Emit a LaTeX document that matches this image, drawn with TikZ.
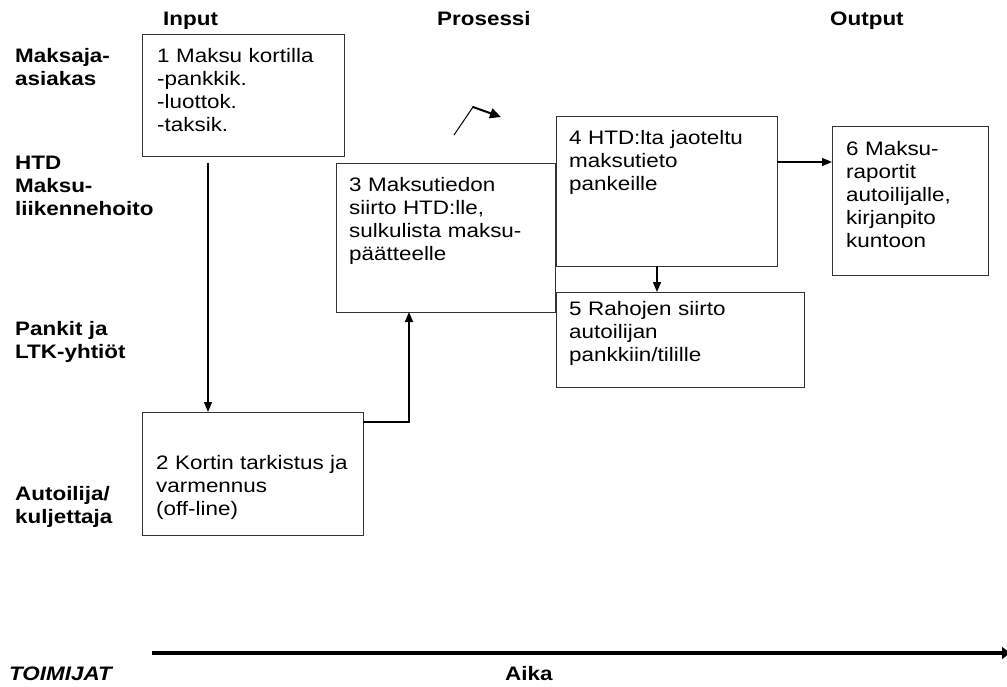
\documentclass[tikz,border=0pt]{standalone}
\usepackage{fontspec}
\setmainfont[FakeStretch=1.15]{Liberation Sans}
\usetikzlibrary{arrows.meta,calc}
\begin{document}
\begin{tikzpicture}[x=1pt,y=-1pt,
  box/.style={draw=black!80,line width=0.9pt,rectangle,inner sep=0pt,outer sep=0pt,anchor=north west},
  txt/.style={inner sep=0pt,anchor=base west,text width=300pt,align=left,font=\fontsize{19.5}{23}\selectfont},
  lbl/.style={inner sep=0pt,anchor=base west,text width=200pt,align=left,font=\fontsize{19.5}{23}\selectfont\bfseries},
  conn/.style={line width=1.4pt,-{Triangle[length=10pt,width=8pt]}}]
\useasboundingbox (0,0) rectangle (1007,687);
% headers
\node[lbl] (hin) at (163,26) {Input};
\node[lbl] (hpr) at (437,26) {Prosessi};
\node[lbl] (hout) at (830,26) {Output};
% actors
\node[lbl] (a1) at (15,63) {Maksaja-\\asiakas};
\node[lbl] (a2) at (15,170) {HTD\\Maksu-\\liikennehoito};
\node[lbl] (a3) at (15,335) {Pankit ja\\LTK-yhtiöt};
\node[lbl] (a4) at (15,500) {Autoilija/\\kuljettaja};
% boxes
\node[box,minimum width=202,minimum height=122] (b1) at (142,34) {};
\node[box,minimum width=221,minimum height=123] (b2) at (142,412) {};
\node[box,minimum width=219,minimum height=149] (b3) at (336,163) {};
\node[box,minimum width=221,minimum height=150] (b4) at (556,116) {};
\node[box,minimum width=248,minimum height=95] (b5) at (556,292) {};
\node[box,minimum width=156,minimum height=149] (b6) at (832,126) {};
% box texts
\node[txt] (t1) at (157,63) {1 Maksu kortilla\\-pankkik.\\-luottok.\\-taksik.};
\node[txt] (t2) at (156,469) {2 Kortin tarkistus ja\\varmennus\\(off-line)};
\node[txt] (t3) at (349,192) {3 Maksutiedon\\siirto HTD:lle,\\sulkulista maksu-\\päätteelle};
\node[txt] (t4) at (569,145) {4 HTD:lta jaoteltu\\maksutieto\\pankeille};
\node[txt] (t5) at (569,316) {5 Rahojen siirto\\autoilijan\\pankkiin/tilille};
\node[txt] (t6) at (846,156) {6 Maksu-\\raportit\\autoilijalle,\\kirjanpito\\kuntoon};
% connectors
\coordinate (c1) at (208,163);
\draw[conn] (c1) -- (c1 |- b2.north);
\coordinate (c2) at ($(b2.north east)+(0,10)$);
\coordinate (c3) at ($(b3.south west)+(73,0)$);
\draw[conn] (c2) -| (c3);
\coordinate (c4) at ($(b4.north east)+(0,46)$);
\draw[conn] (c4) -- (c4 -| b6.west);
\coordinate (c5) at ($(b4.south west)+(101,0)$);
\draw[conn] (c5) -- (c5 |- b5.north);
% stray arrow
\coordinate (z1) at (454,135);
\coordinate (z2) at (473,107);
\coordinate (z3) at (501,117);
\draw[line width=1pt] (z1) -- (z2);
\draw[line width=2pt,line cap=round,-{Triangle[length=11pt,width=10pt]}] (z2) -- (z3);
% time axis
\coordinate (ax0) at (152,653);
\coordinate (ax1) at (1010,653);
\draw[line width=4.5pt,-{Triangle[length=8pt,width=12pt]}] (ax0) -- (ax1);
\node[inner sep=0pt,anchor=base west,font=\fontsize{19.5}{23}\selectfont\bfseries\itshape] (toim) at (9,680) {TOIMIJAT};
\node[lbl] (aika) at (505,680) {Aika};
\end{tikzpicture}
\end{document}
